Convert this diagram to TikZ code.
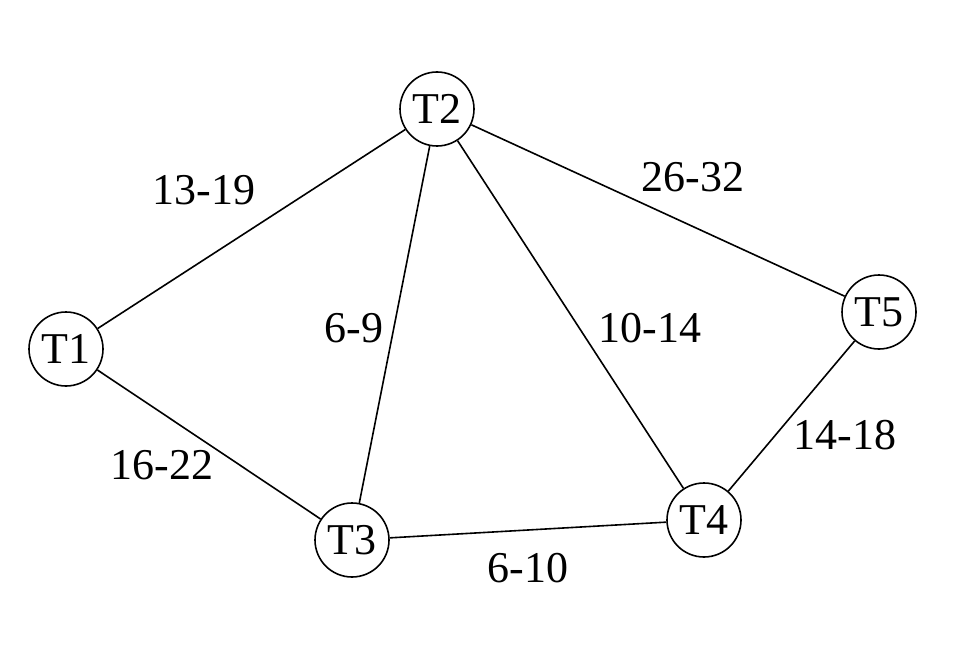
\documentclass[tikz,border=0pt]{standalone}
\usepackage{fontspec}
\setmainfont{Liberation Serif}
\begin{document}
\begin{tikzpicture}[x=1pt,y=-1pt,
  tnode/.style={draw,circle,line width=1.6pt,minimum size=74pt,inner sep=0pt,font=\fontsize{44}{48}\selectfont},
  edge/.style={line width=1.6pt},
  lbl/.style={font=\fontsize{44}{48}\selectfont,inner sep=0pt}]
\useasboundingbox (0,0) rectangle (960,671);
\node[tnode] (T1) at (66,349) {T1};
\node[tnode] (T2) at (437,109) {T2};
\node[tnode] (T3) at (352,540) {T3};
\node[tnode] (T4) at (704,520) {T4};
\node[tnode] (T5) at (879,312) {T5};
\draw[edge] (T1) -- (T2);
\draw[edge] (T1) -- (T3);
\draw[edge] (T2) -- (T3);
\draw[edge] (T2) -- (T4);
\draw[edge] (T2) -- (T5);
\draw[edge] (T3) -- (T4);
\draw[edge] (T4) -- (T5);
\node[lbl] (l12) at (204,190) {13-19};
\node[lbl] (l13) at (162,465) {16-22};
\node[lbl] (l23) at (354,328) {6-9};
\node[lbl] (l24) at (650,328) {10-14};
\node[lbl] (l25) at (693,177) {26-32};
\node[lbl] (l34) at (528,568) {6-10};
\node[lbl] (l45) at (845,435) {14-18};
\end{tikzpicture}
\end{document}
